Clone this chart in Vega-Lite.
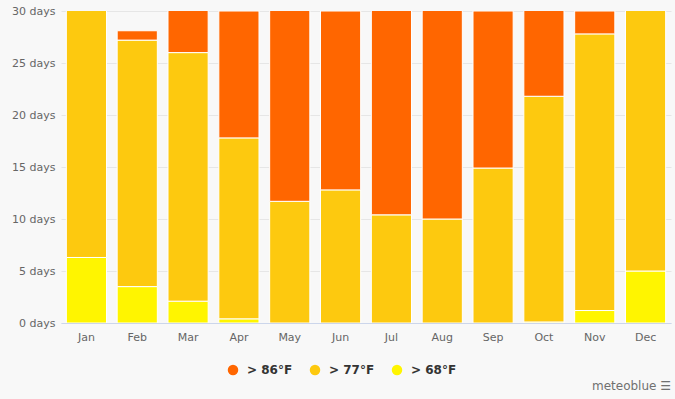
{
  "$schema": "https://vega.github.io/schema/vega-lite/v6.json",
  "width": 610,
  "height": 312,
  "autosize": {"type": "none"},
  "padding": {"left": 61, "top": 11, "right": 4, "bottom": 76},
  "background": "#f8f8f8",
  "title": {
    "text": "meteoblue  ☰",
    "orient": "bottom",
    "anchor": "end",
    "color": "#707070",
    "fontSize": 12,
    "fontWeight": "normal",
    "font": "DejaVu Sans",
    "offset": 5
  },
  "config": {
    "view": {"stroke": null},
    "font": "DejaVu Sans"
  },
  "data": {
    "values": [
      {"month": "Jan", "cat": "> 68°F", "days": 6.3},
      {"month": "Jan", "cat": "> 77°F", "days": 24.7},
      {"month": "Jan", "cat": "> 86°F", "days": 0},
      {"month": "Feb", "cat": "> 68°F", "days": 3.5},
      {"month": "Feb", "cat": "> 77°F", "days": 23.7},
      {"month": "Feb", "cat": "> 86°F", "days": 0.9},
      {"month": "Mar", "cat": "> 68°F", "days": 2.1},
      {"month": "Mar", "cat": "> 77°F", "days": 23.9},
      {"month": "Mar", "cat": "> 86°F", "days": 5.0},
      {"month": "Apr", "cat": "> 68°F", "days": 0.4},
      {"month": "Apr", "cat": "> 77°F", "days": 17.4},
      {"month": "Apr", "cat": "> 86°F", "days": 12.2},
      {"month": "May", "cat": "> 68°F", "days": 0},
      {"month": "May", "cat": "> 77°F", "days": 11.7},
      {"month": "May", "cat": "> 86°F", "days": 19.3},
      {"month": "Jun", "cat": "> 68°F", "days": 0},
      {"month": "Jun", "cat": "> 77°F", "days": 12.8},
      {"month": "Jun", "cat": "> 86°F", "days": 17.2},
      {"month": "Jul", "cat": "> 68°F", "days": 0},
      {"month": "Jul", "cat": "> 77°F", "days": 10.4},
      {"month": "Jul", "cat": "> 86°F", "days": 20.6},
      {"month": "Aug", "cat": "> 68°F", "days": 0},
      {"month": "Aug", "cat": "> 77°F", "days": 10.0},
      {"month": "Aug", "cat": "> 86°F", "days": 21.0},
      {"month": "Sep", "cat": "> 68°F", "days": 0},
      {"month": "Sep", "cat": "> 77°F", "days": 14.9},
      {"month": "Sep", "cat": "> 86°F", "days": 15.1},
      {"month": "Oct", "cat": "> 68°F", "days": 0.1},
      {"month": "Oct", "cat": "> 77°F", "days": 21.7},
      {"month": "Oct", "cat": "> 86°F", "days": 9.2},
      {"month": "Nov", "cat": "> 68°F", "days": 1.2},
      {"month": "Nov", "cat": "> 77°F", "days": 26.6},
      {"month": "Nov", "cat": "> 86°F", "days": 2.2},
      {"month": "Dec", "cat": "> 68°F", "days": 5.0},
      {"month": "Dec", "cat": "> 77°F", "days": 26.0},
      {"month": "Dec", "cat": "> 86°F", "days": 0}
    ]
  },
  "mark": {"type": "bar", "clip": true, "stroke": "#ffffff", "strokeWidth": 1},
  "encoding": {
    "x": {
      "field": "month",
      "type": "nominal",
      "sort": ["Jan","Feb","Mar","Apr","May","Jun","Jul","Aug","Sep","Oct","Nov","Dec"],
      "scale": {"paddingInner": 0.21, "paddingOuter": 0.105},
      "axis": {
        "title": null,
        "labelAngle": 0,
        "labelColor": "#666666",
        "labelFontSize": 11,
        "labelPadding": 8,
        "ticks": false,
        "domainColor": "#ccd6eb",
        "grid": false
      }
    },
    "y": {
      "field": "days",
      "type": "quantitative",
      "stack": "zero",
      "scale": {"domain": [0, 30], "nice": false},
      "axis": {
        "title": null,
        "values": [0, 5, 10, 15, 20, 25, 30],
        "labelExpr": "datum.value + ' days'",
        "labelColor": "#666666",
        "labelFontSize": 11,
        "labelPadding": 6,
        "ticks": false,
        "domain": false,
        "gridColor": "#e6e6e6"
      }
    },
    "color": {
      "field": "cat",
      "type": "nominal",
      "scale": {
        "domain": ["> 86°F", "> 77°F", "> 68°F"],
        "range": ["#ff6600", "#fdc90f", "#fff500"]
      },
      "legend": {
        "title": null,
        "orient": "none",
        "legendX": 166,
        "legendY": 353,
        "direction": "horizontal",
        "symbolType": "circle",
        "symbolSize": 110,
        "symbolStrokeWidth": 0,
        "labelFontSize": 12,
        "labelFontWeight": "bold",
        "labelColor": "#333333",
        "columnPadding": 16,
        "labelOffset": 8
      }
    },
    "order": {"field": "cat", "sort": "ascending"}
  }
}
